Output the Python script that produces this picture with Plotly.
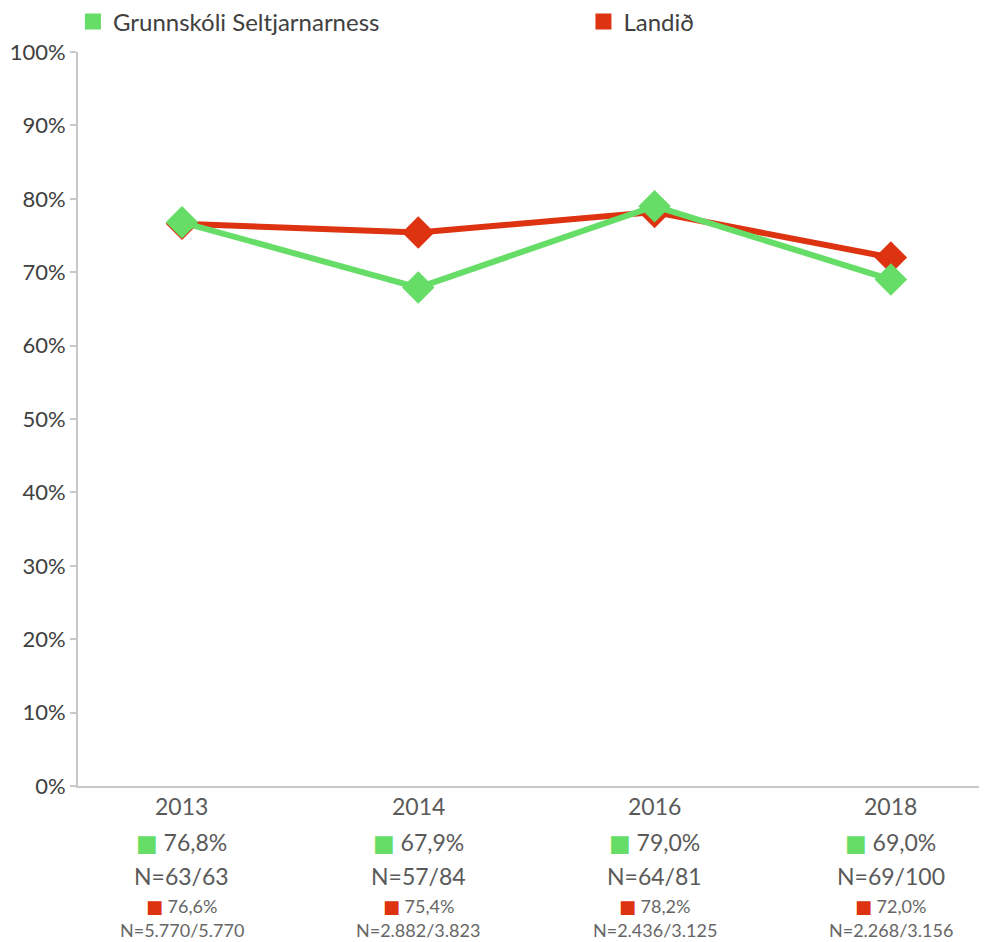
import plotly.graph_objects as go

years = ["2013", "2014", "2016", "2018"]
school_name = "Grunnskóli Seltjarnarness"
country_name = "Landið"
school_vals = [76.8, 67.9, 79.0, 69.0]
country_vals = [76.6, 75.4, 78.2, 72.0]
school_n = ["N=63/63", "N=57/84", "N=64/81", "N=69/100"]
country_n = ["N=5.770/5.770", "N=2.882/3.823", "N=2.436/3.125", "N=2.268/3.156"]
y_ticks = [0, 10, 20, 30, 40, 50, 60, 70, 80, 90, 100]
y_ticktext = [f"{v}%" for v in y_ticks]

GREEN = "#66dd66"
RED = "#dd3311"
FONT = "Lato, 'Open Sans', sans-serif"

def fmt(v):
    return f"{v:.1f}".replace(".", ",") + "%"

fig = go.Figure()
fig.add_trace(go.Scatter(x=years, y=country_vals, mode="lines+markers", name=country_name,
                         line=dict(color=RED, width=6),
                         marker=dict(symbol="diamond", size=25, color=RED),
                         showlegend=False, hoverinfo="skip"))
fig.add_trace(go.Scatter(x=years, y=school_vals, mode="lines+markers", name=school_name,
                         line=dict(color=GREEN, width=6),
                         marker=dict(symbol="diamond", size=25, color=GREEN),
                         showlegend=False, hoverinfo="skip"))
# legend entries (square swatches), each in its own legend box
fig.add_trace(go.Scatter(x=[None], y=[None], mode="markers", name=school_name,
                         marker=dict(symbol="square", size=17, color=GREEN), legend="legend"))
fig.add_trace(go.Scatter(x=[None], y=[None], mode="markers", name=country_name,
                         marker=dict(symbol="square", size=17, color=RED), legend="legend2"))

SQ = "<span style='color:{c};font-family:DejaVu Sans'>■</span>"
annotations = []
for i, yr in enumerate(years):
    rows = [
        (yr, 20, 23, "#5a5a5a"),
        (SQ.format(c=GREEN) + " " + fmt(school_vals[i]), 56, 23, "#5a5a5a"),
        (school_n[i], 90, 23, "#5a5a5a"),
        (SQ.format(c=RED) + " " + fmt(country_vals[i]), 120, 18, "#666666"),
        (country_n[i], 144, 18, "#666666"),
    ]
    for text, shift, size, col in rows:
        annotations.append(dict(x=i, y=0, xref="x", yref="paper", text=text,
                                showarrow=False, yanchor="middle", xanchor="center",
                                yshift=-shift, font=dict(size=size, color=col, family=FONT)))

legend_common = dict(orientation="h", yanchor="middle", xanchor="left",
                     font=dict(size=24, color="#404040", family=FONT),
                     borderwidth=0, bgcolor="rgba(0,0,0,0)")

# page body has an 8px margin, so the figure is shrunk by 8px and offsets reduced
fig.update_layout(
    width=979, height=934,
    margin=dict(l=70, r=4, t=44, b=156, autoexpand=False),
    paper_bgcolor="white", plot_bgcolor="white",
    font=dict(family=FONT, color="#404040", size=22),
    showlegend=True,
    legend=dict(x=-0.0056, y=1.041, **legend_common),
    legend2=dict(x=0.5585, y=1.041, **legend_common),
    annotations=annotations,
)
fig.update_xaxes(type="category", range=[-0.44, 3.39], showticklabels=False,
                 showline=True, linecolor="#c8c8c8", linewidth=2, ticks="",
                 showgrid=False, zeroline=False)
fig.update_yaxes(range=[0, 100], tickmode="array", tickvals=y_ticks, ticktext=y_ticktext,
                 showline=True, linecolor="#c8c8c8", linewidth=2,
                 ticks="outside", ticklen=6, tickcolor="#c8c8c8", tickwidth=2,
                 showgrid=False, zeroline=False,
                 tickfont=dict(size=22, color="#404040", family=FONT))

fig.write_html("out.html")
